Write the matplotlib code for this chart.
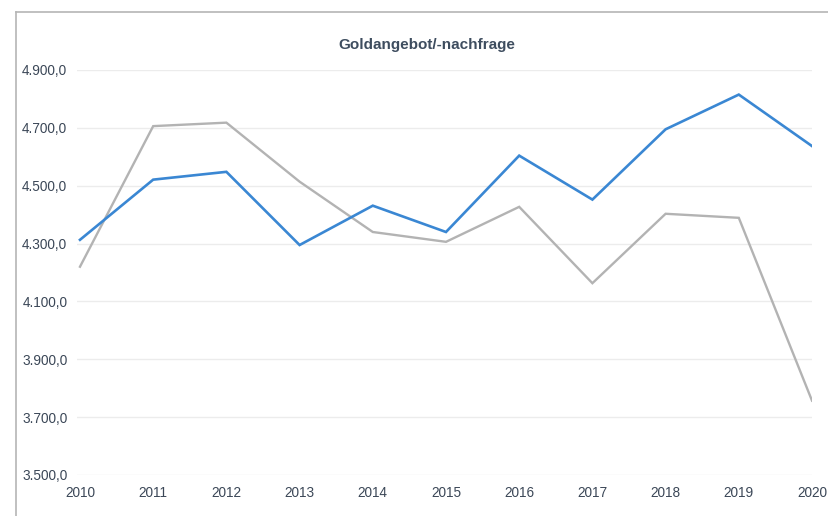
import matplotlib
matplotlib.use("Agg")
import matplotlib.pyplot as plt
from matplotlib.lines import Line2D
from matplotlib.ticker import FuncFormatter

years = [2010, 2011, 2012, 2013, 2014, 2015, 2016, 2017, 2018, 2019, 2020]
angebot = [4313, 4521, 4548, 4295, 4431, 4340, 4604, 4452, 4695, 4815, 4637]
nachfrage = [4220, 4706, 4718, 4514, 4340, 4306, 4427, 4163, 4403, 4389, 3757]
yticks = [3500, 3700, 3900, 4100, 4300, 4500, 4700, 4900]
title = "Goldangebot/-nachfrage"

W, H = 829, 516
fig = plt.figure(figsize=(W / 100, H / 100), dpi=100)
plt.rcParams['font.family'] = ['Liberation Sans', 'DejaVu Sans']

L, R, B, T = 77, 812, 475, 70
ax = fig.add_axes([L / W, (H - B) / H, (R - L) / W, (B - T) / H])
ax.plot(years, nachfrage, color='#b3b3b3', lw=1.7, solid_joinstyle='miter', zorder=3)
ax.plot(years, angebot, color='#3a87d3', lw=1.9, solid_joinstyle='miter', zorder=4)

ax.set_xlim(2010 - 3 / 73.5, 2020)
ax.set_ylim(3500, 4900)
ax.set_yticks(yticks)
ax.set_xticks(years)
ax.yaxis.set_major_formatter(FuncFormatter(
    lambda v, p: f"{v:,.1f}".replace(",", "X").replace(".", ",").replace("X", ".")))
ax.grid(axis='y', color='#ececec', lw=1.0)
ax.set_axisbelow(True)
for s in ax.spines.values():
    s.set_visible(False)
ax.tick_params(axis='both', length=0, labelsize=9.8, colors='#3b4757')
ax.tick_params(axis='y', pad=7)
ax.tick_params(axis='x', pad=8)

fig.text(427 / W, (H - 45) / H, title, ha='center', va='center',
         fontsize=11, fontweight='bold', color='#3e4d5f')

# outer frame lines
fig.add_artist(Line2D([16 / W, 1], [(H - 12) / H, (H - 12) / H], color='#b5b5b5', lw=1.2,
                      transform=fig.transFigure))
fig.add_artist(Line2D([16 / W, 16 / W], [0, (H - 12) / H], color='#b5b5b5', lw=1.2,
                      transform=fig.transFigure))

fig.savefig("out.png", dpi=100)
